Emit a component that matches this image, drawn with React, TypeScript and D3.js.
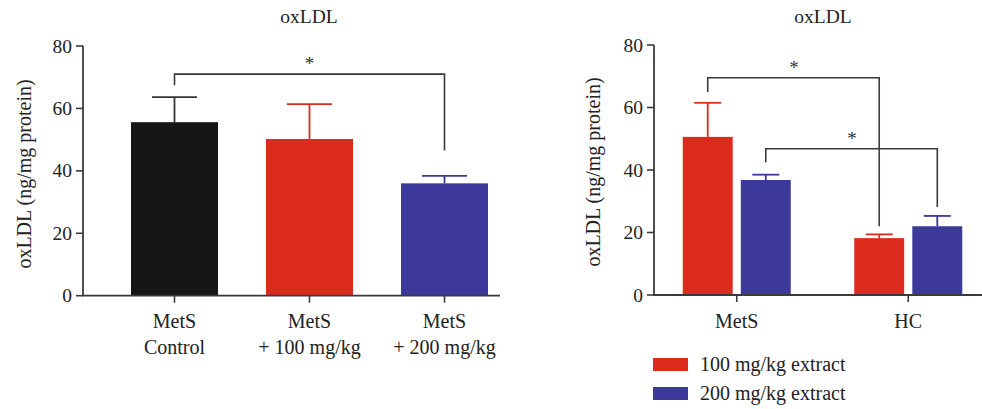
import React from "react";
import * as d3 from "d3";

const leftCategories = ["MetS\nControl", "MetS\n+ 100 mg/kg", "MetS\n+ 200 mg/kg"];
const leftMeans = [55.6, 50.2, 36.0];
const leftErrors = [8.0, 11.2, 2.4];
const leftColors = ["#161616", "#DB2B1C", "#3C399B"];

const rightGroups = ["MetS", "HC"];
const rightSeries = ["100 mg/kg extract", "200 mg/kg extract"];
const rightMeans100 = [50.6, 18.2];
const rightErrors100 = [10.9, 1.2];
const rightMeans200 = [36.8, 22.0];
const rightErrors200 = [1.7, 3.3];
const seriesColors = ["#DB2B1C", "#3C399B"];

const yTicks = [0, 20, 40, 60, 80];
const FONT = "'Liberation Serif', 'Times New Roman', serif";
const AX = "#3a3a3a";

export default function App() {
  // Left panel
  const lyAxisX = 83;
  const ly = d3.scaleLinear().domain([0, 80]).range([295.7, 46]);
  const lx = d3.scaleBand().domain(leftCategories).range([131, 488]).paddingInner(0.3556).paddingOuter(0);
  const lxc = (c: string) => (lx(c) as number) + lx.bandwidth() / 2;

  // Right panel
  const ryAxisX = 654;
  const ry = d3.scaleLinear().domain([0, 80]).range([295, 45]);
  const rx0 = d3.scaleBand().domain(rightGroups).range([651, 994]).paddingInner(0.0).paddingOuter(0);
  const rx1 = d3.scaleBand().domain(rightSeries).range([0, 108]).paddingInner(0.14);
  const rgc = (g: string) => (rx0(g) as number) + rx0.bandwidth() / 2;
  const barX = (g: string, s: string) => rgc(g) - 54 + (rx1(s) as number);
  const rightData = [
    { s: rightSeries[0], means: rightMeans100, errs: rightErrors100, color: seriesColors[0] },
    { s: rightSeries[1], means: rightMeans200, errs: rightErrors200, color: seriesColors[1] },
  ];
  const rbc = (g: string, s: string) => barX(g, s) + rx1.bandwidth() / 2;

  const bracketL1 = {
    y: 71.0, x1: lxc(leftCategories[0]), x2: lxc(leftCategories[2]), y1: 67.4, y2: 46.5,
  };
  const rb1 = { y: 69.5, x1: rbc("MetS", rightSeries[0]), x2: rbc("HC", rightSeries[0]), y1: 65.0, y2: 22.0 };
  const rb2 = { y: 46.8, x1: rbc("MetS", rightSeries[1]), x2: rbc("HC", rightSeries[1]), y1: 42.5, y2: 28.2 };

  const bracket = (b: any, yS: any, key: string) => (
    <path key={key} d={`M${b.x1},${yS(b.y1)}V${yS(b.y)}H${b.x2}V${yS(b.y2)}`} fill="none" stroke={AX} strokeWidth={1.6} />
  );

  return (
    <svg width={982} height={409} style={{ position: "absolute", left: 0, top: 0 }} fontFamily={FONT}>
      <rect width={982} height={409} fill="#fff" />
      {/* LEFT */}
      <text x={309} y={23} textAnchor="middle" fontSize={19.5} fill="#222">oxLDL</text>
      <text transform={`translate(31,174) rotate(-90)`} textAnchor="middle" fontSize={20} fill="#222">oxLDL (ng/mg protein)</text>
      {leftCategories.map((c, i) => {
        const cx = lxc(c);
        const top = ly(leftMeans[i] + leftErrors[i]);
        return (
          <g key={c}>
            <line x1={cx} x2={cx} y1={top} y2={ly(leftMeans[i])} stroke={i === 0 ? "#333" : leftColors[i]} strokeWidth={1.8} />
            <line x1={cx - 22.5} x2={cx + 22.5} y1={top} y2={top} stroke={i === 0 ? "#333" : leftColors[i]} strokeWidth={1.8} />
            <rect x={lx(c)} y={ly(leftMeans[i])} width={lx.bandwidth()} height={ly(0) - ly(leftMeans[i])} fill={leftColors[i]} />
            <line x1={cx} x2={cx} y1={ly(0)} y2={ly(0) + 7} stroke={AX} strokeWidth={1.6} />
            {c.split("\n").map((t, j) => (
              <text key={j} x={cx} y={328 + j * 26} textAnchor="middle" fontSize={20} fill="#222">{t}</text>
            ))}
          </g>
        );
      })}
      <line x1={lyAxisX} x2={lyAxisX} y1={ly(80)} y2={ly(0)} stroke={AX} strokeWidth={1.8} />
      <line x1={lyAxisX - 1} x2={500} y1={ly(0)} y2={ly(0)} stroke={AX} strokeWidth={1.8} />
      {yTicks.map((t) => (
        <g key={t}>
          <line x1={lyAxisX - 7} x2={lyAxisX} y1={ly(t)} y2={ly(t)} stroke={AX} strokeWidth={1.6} />
          <text x={lyAxisX - 11} y={ly(t) + 6.5} textAnchor="end" fontSize={19.5} fill="#222">{t}</text>
        </g>
      ))}
      {bracket(bracketL1, ly, "lb1")}
      <text x={(bracketL1.x1 + bracketL1.x2) / 2} y={ly(bracketL1.y) - 4} textAnchor="middle" fontSize={19} fill="#333">*</text>

      {/* RIGHT */}
      <text x={823} y={23} textAnchor="middle" fontSize={19.5} fill="#222">oxLDL</text>
      <text transform={`translate(600,172) rotate(-90)`} textAnchor="middle" fontSize={20} fill="#222">oxLDL (ng/mg protein)</text>
      {rightData.map((sd) =>
        rightGroups.map((g, i) => {
          const cx = rbc(g, sd.s);
          const top = ry(sd.means[i] + sd.errs[i]);
          return (
            <g key={sd.s + g}>
              <line x1={cx} x2={cx} y1={top} y2={ry(sd.means[i])} stroke={sd.color} strokeWidth={1.8} />
              <line x1={cx - 13.5} x2={cx + 13.5} y1={top} y2={top} stroke={sd.color} strokeWidth={1.8} />
              <rect x={barX(g, sd.s)} y={ry(sd.means[i])} width={rx1.bandwidth()} height={ry(0) - ry(sd.means[i])} fill={sd.color} />
            </g>
          );
        })
      )}
      {rightGroups.map((g) => (
        <g key={g}>
          <line x1={rgc(g)} x2={rgc(g)} y1={ry(0)} y2={ry(0) + 7} stroke={AX} strokeWidth={1.6} />
          <text x={rgc(g)} y={328} textAnchor="middle" fontSize={20} fill="#222">{g}</text>
        </g>
      ))}
      <line x1={ryAxisX} x2={ryAxisX} y1={ry(80)} y2={ry(0)} stroke={AX} strokeWidth={1.8} />
      <line x1={ryAxisX - 1} x2={982} y1={ry(0)} y2={ry(0)} stroke={AX} strokeWidth={1.8} />
      {yTicks.map((t) => (
        <g key={t}>
          <line x1={ryAxisX - 7} x2={ryAxisX} y1={ry(t)} y2={ry(t)} stroke={AX} strokeWidth={1.6} />
          <text x={ryAxisX - 11} y={ry(t) + 6.5} textAnchor="end" fontSize={19.5} fill="#222">{t}</text>
        </g>
      ))}
      {bracket(rb1, ry, "rb1")}
      {bracket(rb2, ry, "rb2")}
      <text x={794} y={ry(rb1.y) - 4} textAnchor="middle" fontSize={19} fill="#333">*</text>
      <text x={852} y={ry(rb2.y) - 4} textAnchor="middle" fontSize={19} fill="#333">*</text>

      {rightSeries.map((s, i) => (
        <g key={s}>
          <rect x={653} y={358 + i * 29} width={35} height={13} fill={seriesColors[i]} />
          <text x={700} y={371 + i * 29} fontSize={20} fill="#222">{s}</text>
        </g>
      ))}
    </svg>
  );
}
